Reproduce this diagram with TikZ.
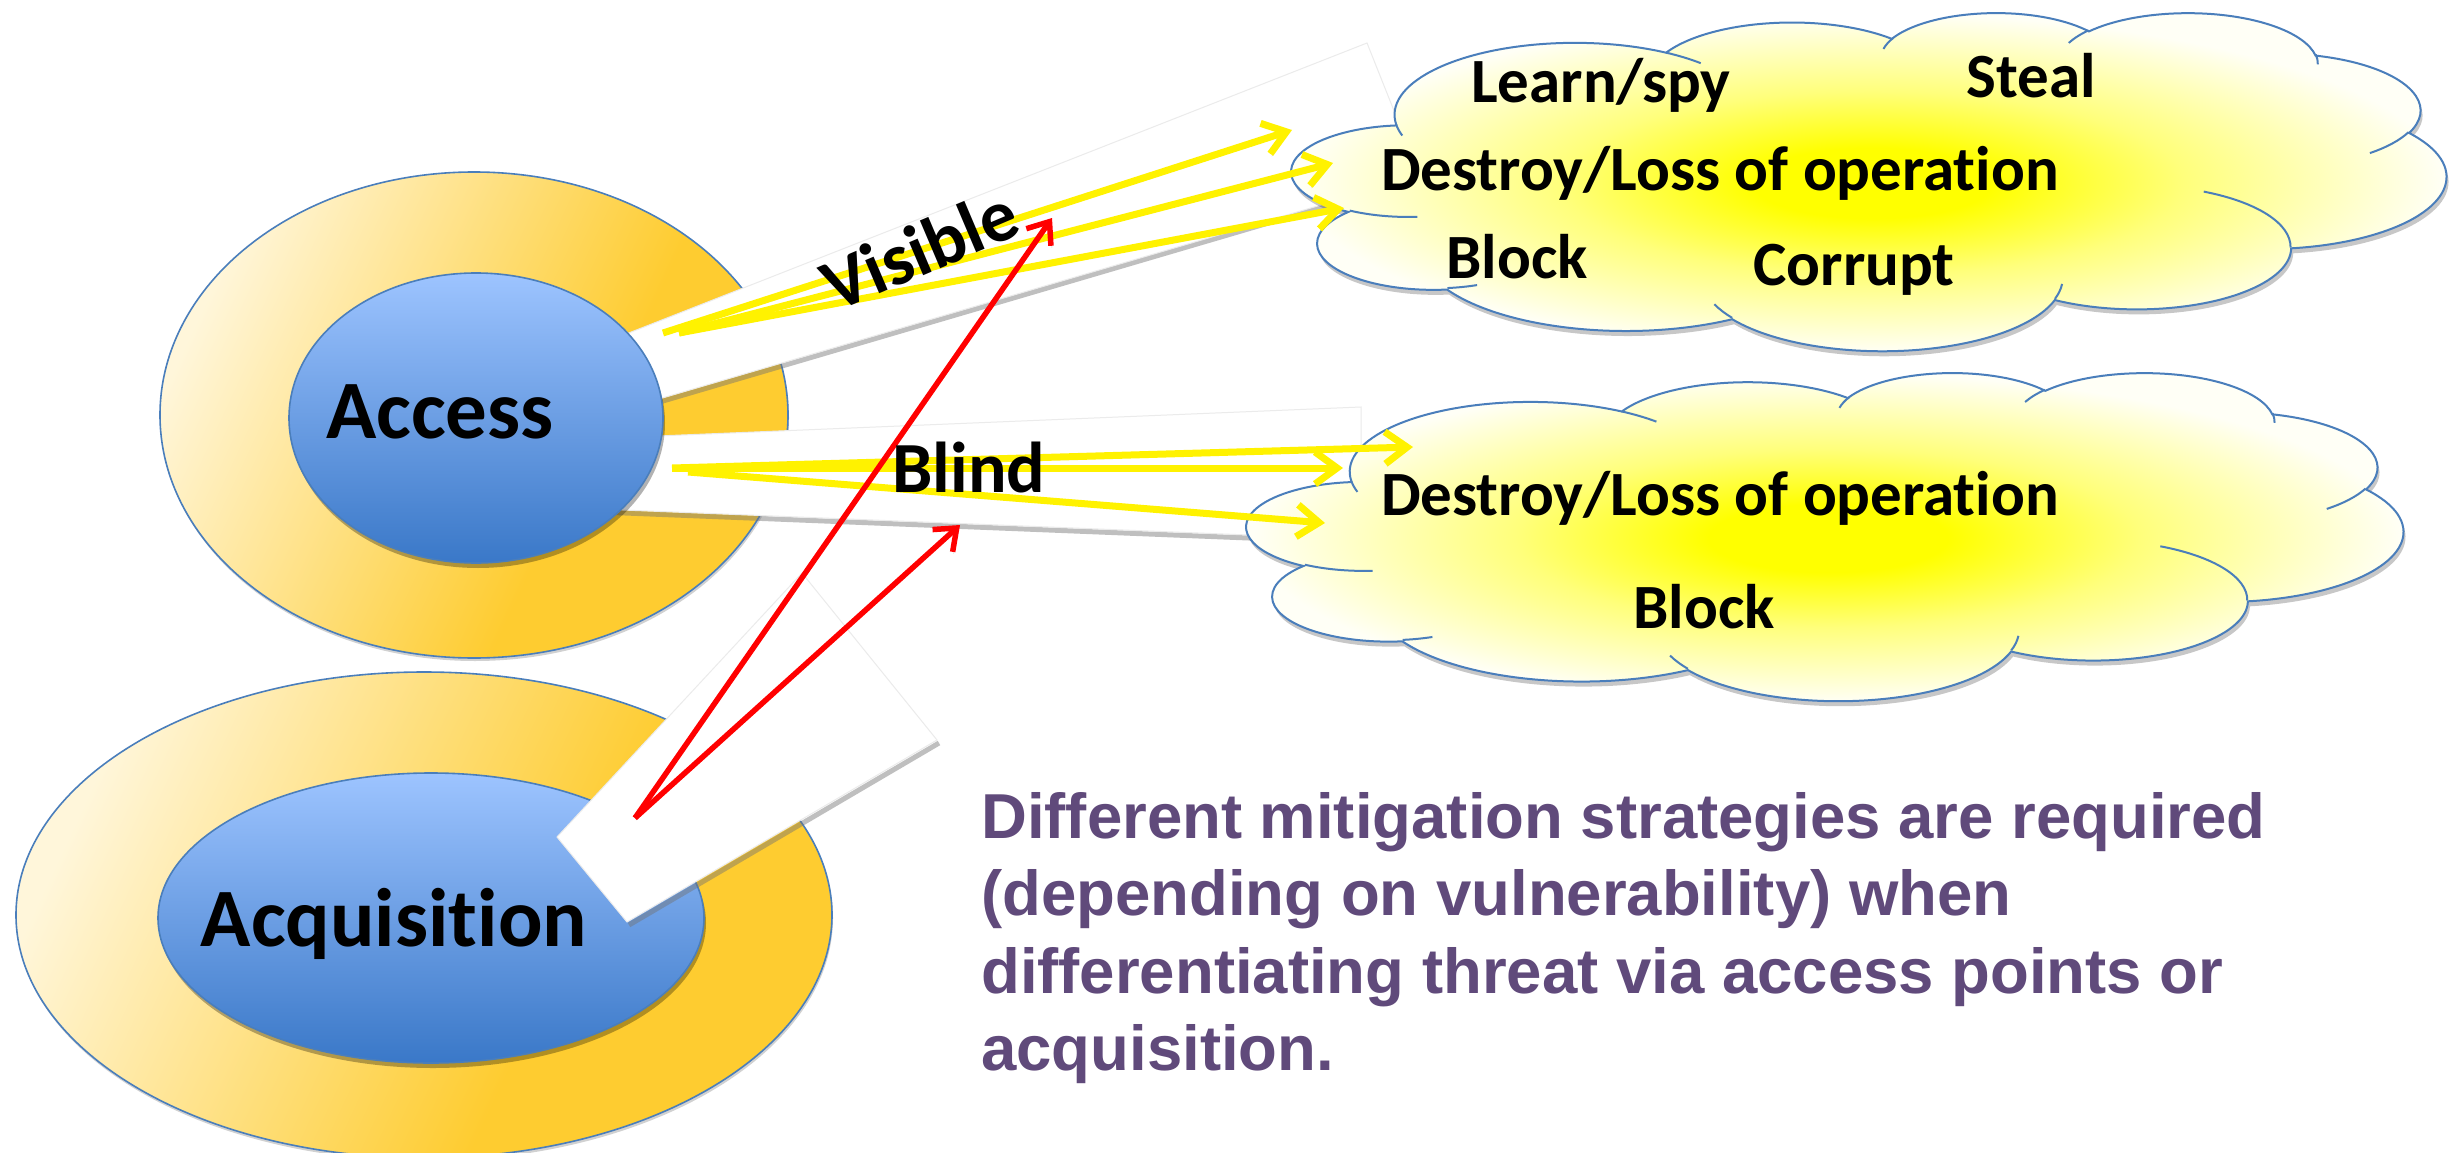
\documentclass[tikz,border=0pt]{standalone}
\usepackage{fontspec}
\setmainfont{Carlito}[Ligatures={NoCommon}]
\newfontfamily\notefont{Liberation Sans}
\usetikzlibrary{arrows.meta,shadows,shapes.geometric}

\definecolor{gLight}{RGB}{255,246,218}
\definecolor{gDark}{RGB}{254,204,48}
\definecolor{bTop}{RGB}{157,196,255}
\definecolor{bBot}{RGB}{58,120,200}
\definecolor{edgeBlue}{RGB}{74,126,187}
\definecolor{noteViolet}{RGB}{96,74,123}
\definecolor{cloudWhite}{RGB}{255,255,246}

\pgfdeclarehorizontalshading{goldgrad}{100bp}{color(0bp)=(gLight); color(25bp)=(gLight); color(60bp)=(gDark); color(100bp)=(gDark)}
\pgfdeclareradialshading{cloudglow}{\pgfpoint{0bp}{0bp}}{color(0bp)=(yellow); color(5bp)=(yellow); color(13bp)=(yellow!50!cloudWhite); color(24bp)=(cloudWhite); color(50bp)=(cloudWhite)}

% DrawingML-style arcTo (visual angles) -> TikZ parametric arc
\newcommand\cldarc[4]{\pgfextra{\pgfmathsetmacro\cldta{atan2((#1)*sin(#3),(#2)*cos(#3))}\pgfmathsetmacro\cldtb{atan2((#1)*sin((#3)+(#4)),(#2)*cos((#3)+(#4)))}\pgfmathsetmacro\cldtd{mod((\cldtb)-(\cldta)+720,360)}} arc[start angle=\cldta, delta angle=\cldtd, x radius=#1, y radius=#2]}

\newcommand\cloudOutline{(390,1437)
 \cldarc{675.3}{919.0}{-190.4875}{123.7805}
 \cldarc{533.3}{726.7}{-144.1024}{89.9452}
 \cldarc{436.5}{594.5}{-145.8079}{99.7230}
 \cldarc{485.7}{659.5}{-130.9861}{117.2417}
 \cldarc{533.3}{727.3}{-78.7089}{109.0269}
 \cldarc{677.5}{922.0}{-46.2673}{130.2690}
 \cldarc{578.5}{786.7}{0.6250}{114.0333}
 \cldarc{675.2}{921.5}{22.4516}{115.1726}
 \cldarc{772.0}{1054.3}{66.2426}{75.7110}
 \cldarc{436.0}{591.8}{-274.9421}{146.7356}
 \cldarc{434.5}{594.5}{-246.8285}{152.5189} -- cycle}

\newcommand\cloudCreases{(469.3,2617.7) \cldarc{434.5}{594.5}{86.742}{26.4295}
 (692.8,3489.9) \cldarc{436.0}{591.8}{73.6105}{11.4475}
 (1647.8,3909.0) \cldarc{675.2}{921.5}{137.6242}{14.0811}
 (2882.7,3475.1) \cldarc{675.2}{921.5}{6.4533}{15.9984}
 (3412.9,2295.4) \cldarc{578.5}{786.7}{-70.2924}{70.9174}
 (4179.8,1535.4) \cldarc{533.3}{727.3}{30.3180}{27.7515}
 (3832.4,542.6) \cldarc{485.7}{659.5}{-13.7443}{14.8589}
 (2907.8,395.2) \cldarc{485.7}{659.5}{-149.1815}{18.1954}
 (2214.1,472.0) \cldarc{436.5}{594.5}{-163.4943}{17.6864}
 (1400.0,519.2) \cldarc{675.3}{919.0}{-66.7070}{12.3194}
 (412.7,1578.9) \cldarc{675.3}{919.0}{157.6544}{11.8582}}

\begin{document}
\begin{tikzpicture}[x=1pt, y=-1pt,
  outerring/.style={ellipse, inner sep=0pt, outer sep=0pt, draw=edgeBlue, line width=1.6pt,
     shade, shading=goldgrad, shading angle=-25,
     drop shadow={shadow xshift=1pt, shadow yshift=-3pt, opacity=0.18, fill=black}},
  innercore/.style={ellipse, inner sep=0pt, outer sep=0pt, draw=edgeBlue, line width=1.6pt,
     top color=bTop, bottom color=bBot,
     drop shadow={shadow xshift=2pt, shadow yshift=-5pt, opacity=0.3, fill=black}},
  beam/.style={fill=white, draw=black!8, line width=1pt},
  beamshadow/.style={draw=black!55, line width=5pt, opacity=0.45},
  cloudbody/.style={draw=edgeBlue, line width=2pt, shade, shading=cloudglow,
     drop shadow={shadow xshift=2pt, shadow yshift=-5pt, opacity=0.22, fill=black}},
  crease/.style={draw=edgeBlue, line width=2pt},
  yarrow/.style={draw=yellow, line width=7pt, -{Straight Barb[length=22pt,width=32pt]},
     preaction={draw=black!50, opacity=0.3, transform canvas={xshift=1.5pt,yshift=-2.5pt}}},
  rarrow/.style={draw=red, line width=5.5pt, -{Straight Barb[length=19pt,width=30pt]},
     preaction={draw=black!60, opacity=0.25, transform canvas={xshift=1pt,yshift=-2pt}}},
  bigLabel/.style={font=\bfseries\fontsize{83}{90}\selectfont, inner sep=0pt, anchor=base},
  cloudText/.style={font=\bfseries\fontsize{63}{70}\selectfont, inner sep=0pt, anchor=base},
  beamText/.style={font=\bfseries\fontsize{72}{80}\selectfont, inner sep=0pt},
  noteLine/.style={font=\notefont\bfseries\fontsize{63.5}{77}\selectfont, text=noteViolet, inner sep=0pt, anchor=base west}
]
\useasboundingbox (0,0) rectangle (2450,1153);
\fill[white] (0,0) rectangle (2450,1153);

% outer rings
\node[outerring, minimum width=628pt, minimum height=486pt] (accessOuter) at (474,415) {};
\node[outerring, minimum width=816pt, minimum height=486pt] (acqOuter) at (424,915) {};

% white beams from Access
\draw[beamshadow] (600,419.5) -- (1418,179);
\draw[beam] (560,360) -- (1367,43) -- (1420,176) -- (560,428) -- cycle;
\draw[beamshadow] (600,512) -- (1361,542.5);
\draw[beam] (560,440) -- (1361,407) -- (1361,539.5) -- (560,507.5) -- cycle;

% inner cores
\node[innercore, minimum width=374pt, minimum height=290pt] (accessCore) at (476,418) {};
\node[innercore, minimum width=546pt, minimum height=290pt] (acqCore) at (431,918) {};

% white beam from Acquisition
\draw[beamshadow] (629,925) -- (939,743);
\draw[beam] (557,837) -- (802,573) -- (937,740) -- (627,922) -- cycle;

% cloud 1
\begin{scope}[xshift=1292pt, yshift=-12pt, x=0.26713pt, y=-0.078241pt]
  \path[cloudbody] \cloudOutline;
  \path[crease] \cloudCreases;
\end{scope}
% cloud 2
\begin{scope}[xshift=1247pt, yshift=-372pt, x=0.26759pt, y=-0.075926pt]
  \path[cloudbody] \cloudOutline;
  \path[crease] \cloudCreases;
\end{scope}

% arrow end points
\coordinate (visA) at (663,333);
\coordinate (visB) at (679,333);
\coordinate (visT1) at (1292,130);
\coordinate (visT2) at (1333,163);
\coordinate (visT3) at (1344,208);
\coordinate (blA) at (672,468);
\coordinate (blB) at (688,472);
\coordinate (blT1) at (1413,447);
\coordinate (blT2) at (1343,468);
\coordinate (blT3) at (1325,523);
\coordinate (acqS) at (635,818);
\coordinate (acqT1) at (1052,218);
\coordinate (acqT2) at (960,525);

% yellow arrows
\draw[yarrow] (visA) -- (visT1);
\draw[yarrow] (visB) -- (visT2);
\draw[yarrow] (visB) -- (visT3);
\draw[yarrow] (blA) -- (blT1);
\draw[yarrow] (blA) -- (blT2);
\draw[yarrow] (blB) -- (blT3);

% red arrows
\draw[rarrow] (acqS) -- (acqT1);
\draw[rarrow] (acqS) -- (acqT2);

% labels
\node[bigLabel] (accessText) at (440,438) {Access};
\node[bigLabel] (acqText) at (394,946) {Acquisition};
\node[beamText, anchor=base west, rotate=23, font=\bfseries\fontsize{74}{80}\selectfont] (visibleText) at (835,313) {Visible};
\node[beamText, anchor=base] (blindText) at (969,492) {Blind};

\node[cloudText] (learnText) at (1601,103) {Learn/spy};
\node[cloudText] (stealText) at (2031,98) {Steal};
\node[cloudText] (destroyA) at (1720,190) {Destroy/Loss of operation};
\node[cloudText] (blockA) at (1517,278) {Block};
\node[cloudText] (corruptText) at (1854,285) {Corrupt};
\node[cloudText] (destroyB) at (1720,515) {Destroy/Loss of operation};
\node[cloudText] (blockB) at (1704,628) {Block};

\node[noteLine] (note1) at (981,838) {Different mitigation strategies are required};
\node[noteLine] (note2) at (981,915.5) {(depending on vulnerability) when};
\node[noteLine] (note3) at (981,993) {differentiating threat via access points or};
\node[noteLine] (note4) at (981,1070) {acquisition.};
\end{tikzpicture}
\end{document}
